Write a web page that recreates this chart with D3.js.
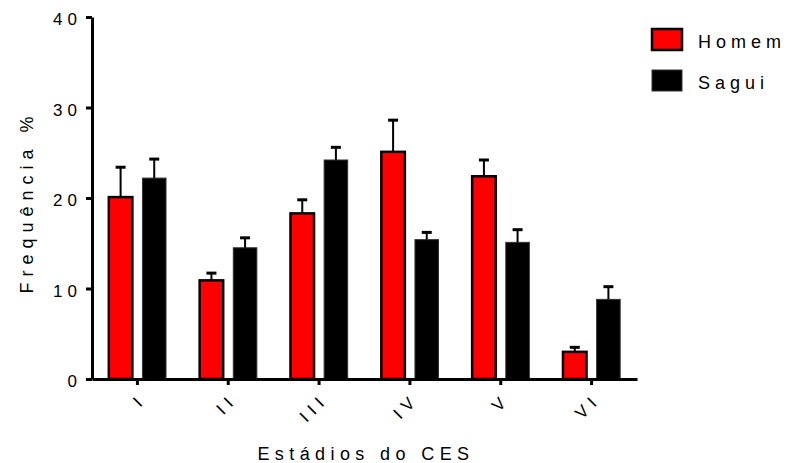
<!DOCTYPE html>
<html>
<head>
<meta charset="utf-8">
<script src="https://cdn.jsdelivr.net/npm/d3@7"></script>
<style>
  body { margin: 0; background: #fff; }
  text { font-family: "Liberation Sans", Arial, sans-serif; fill: #000; }
</style>
</head>
<body>
<div id="chart"></div>
<script>
const stages = ["I", "II", "III", "IV", "V", "VI"];
const seriesNames = ["Homem", "Sagui"];
const homem = [20.1, 10.9, 18.3, 25.1, 22.4, 3.0];
const homemErr = [3.3, 0.8, 1.5, 3.5, 1.8, 0.5];
const sagui = [22.2, 14.5, 24.2, 15.4, 15.1, 8.8];
const saguiErr = [2.1, 1.1, 1.4, 0.8, 1.4, 1.4];
const yTicks = [0, 10, 20, 30, 40];
const colors = { Homem: "#ff0000", Sagui: "#000000" };

const width = 789, height = 463;
const margin = { top: 17, right: 152, bottom: 84, left: 92 };
const font = "'Liberation Sans', Arial, sans-serif";

const data = stages.map((s, i) => ({
  stage: s,
  values: [
    { key: "Homem", value: homem[i], err: homemErr[i] },
    { key: "Sagui", value: sagui[i], err: saguiErr[i] }
  ]
}));

const svg = d3.select("#chart").append("svg")
  .attr("width", width)
  .attr("height", height);

const x = d3.scaleBand()
  .domain(stages)
  .range([margin.left, width - margin.right])
  .padding(0);

const xSub = d3.scaleBand()
  .domain(seriesNames)
  .range([0, x.bandwidth()])
  .paddingInner(0.3)
  .paddingOuter(0.5);

const y = d3.scaleLinear()
  .domain([0, 40])
  .range([height - margin.bottom, margin.top]);

// bars
const groups = svg.append("g")
  .selectAll("g")
  .data(data)
  .join("g")
  .attr("transform", d => `translate(${x(d.stage)},0)`);

groups.selectAll("rect")
  .data(d => d.values)
  .join("rect")
  .attr("x", d => xSub(d.key))
  .attr("y", d => y(d.value))
  .attr("width", xSub.bandwidth())
  .attr("height", d => y(0) - y(d.value))
  .attr("fill", d => colors[d.key])
  .attr("stroke", d => d.key === "Homem" ? "#000" : "#333")
  .attr("stroke-width", d => d.key === "Homem" ? 2.5 : 1);

// error bars (upper only)
groups.selectAll("line.err")
  .data(d => d.values)
  .join("line")
  .attr("class", "err")
  .attr("x1", d => xSub(d.key) + xSub.bandwidth() / 2)
  .attr("x2", d => xSub(d.key) + xSub.bandwidth() / 2)
  .attr("y1", d => y(d.value))
  .attr("y2", d => y(d.value + d.err))
  .attr("stroke", "#000")
  .attr("stroke-width", 2);

groups.selectAll("line.cap")
  .data(d => d.values)
  .join("line")
  .attr("class", "cap")
  .attr("x1", d => xSub(d.key) + xSub.bandwidth() / 2 - 5)
  .attr("x2", d => xSub(d.key) + xSub.bandwidth() / 2 + 5)
  .attr("y1", d => y(d.value + d.err))
  .attr("y2", d => y(d.value + d.err))
  .attr("stroke", "#000")
  .attr("stroke-width", 3);

// y axis
const yAxis = svg.append("g")
  .attr("transform", `translate(${margin.left},0)`)
  .call(d3.axisLeft(y).tickValues(yTicks).tickSize(6).tickSizeOuter(0).tickPadding(4));

yAxis.select(".domain").attr("stroke-width", 3);
yAxis.selectAll(".tick line").attr("stroke-width", 3);
yAxis.selectAll(".tick text")
  .attr("dy", "0.45em")
  .style("font-size", "17px")
  .style("letter-spacing", "5px")
  .style("font-family", font);

// x axis
const xAxis = svg.append("g")
  .attr("transform", `translate(0,${height - margin.bottom})`)
  .call(d3.axisBottom(x).tickSize(6).tickSizeOuter(0));

xAxis.select(".domain").attr("stroke-width", 3);
xAxis.selectAll(".tick line").attr("stroke-width", 3);
xAxis.selectAll(".tick text")
  .attr("x", 0)
  .attr("y", 0)
  .attr("dy", "0.35em")
  .attr("text-anchor", "end")
  .attr("transform", "translate(6,17) rotate(-45)")
  .style("font-size", "17px")
  .style("letter-spacing", "6px")
  .style("font-family", font);

// axis titles
svg.append("text")
  .attr("transform", `translate(33,${205 - 3}) rotate(-90)`)
  .attr("text-anchor", "middle")
  .style("font-size", "18px")
  .style("letter-spacing", "6px")
  .text("Frequência %");

svg.append("text")
  .attr("x", 366)
  .attr("y", 460)
  .attr("text-anchor", "middle")
  .style("font-size", "18px")
  .style("letter-spacing", "5.4px")
  .text("Estádios do CES");

// legend
const legend = svg.append("g")
  .selectAll("g")
  .data(seriesNames)
  .join("g")
  .attr("transform", (d, i) => `translate(652,${29 + i * 41})`);

legend.append("rect")
  .attr("width", 30)
  .attr("height", 21)
  .attr("fill", d => colors[d])
  .attr("stroke", d => d === "Homem" ? "#000" : "#333")
  .attr("stroke-width", d => d === "Homem" ? 2.5 : 1);

legend.append("text")
  .attr("x", 46)
  .attr("y", 19)
  .style("font-size", "18px")
  .style("letter-spacing", "5px")
  .text(d => d);
</script>
</body>
</html>
